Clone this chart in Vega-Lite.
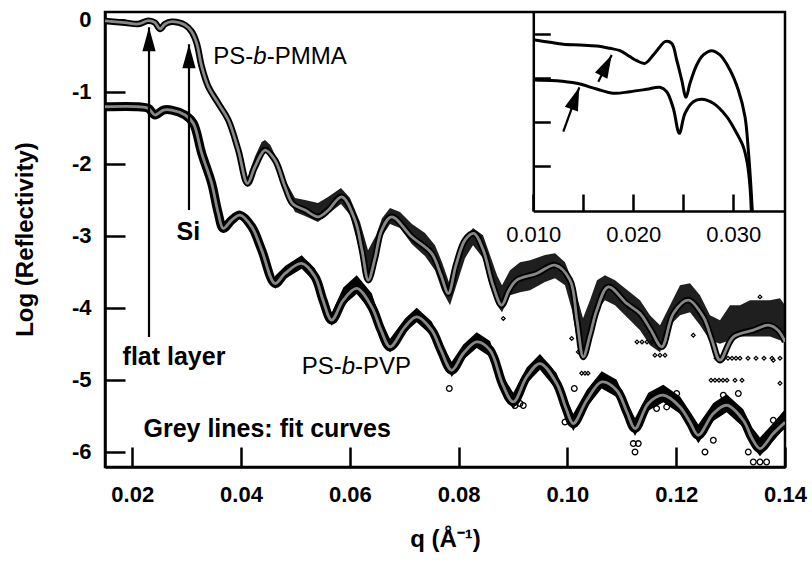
{
  "$schema": "https://vega.github.io/schema/vega-lite/v6.json",
  "width": 680,
  "height": 455,
  "autosize": {"type": "none"},
  "padding": {"left": 105, "top": 12, "right": 27, "bottom": 96},
  "background": "white",
  "config": {
    "font": "Liberation Sans",
    "view": {"stroke": "black", "strokeWidth": 2.5},
    "axis": {"grid": false, "domainColor": "black", "domainWidth": 2.5, "tickColor": "black", "tickWidth": 2.5, "labelColor": "black", "titleColor": "black", "labelFont": "Liberation Sans", "titleFont": "Liberation Sans", "labelOverlap": false, "labelFlush": false}
  },
  "datasets": {
    "pmma": [
      {"q":0.0150,"v":-0.019},{"q":0.01868,"v":-0.043},{"q":0.02112,"v":-0.061},{"q":0.02296,"v":-0.015},{"q":0.02419,"v":-0.043},{"q":0.02511,"v":-0.131},{"q":0.02603,"v":-0.061},{"q":0.02726,"v":-0.029},{"q":0.02971,"v":-0.075},{"q":0.03094,"v":-0.168},{"q":0.03186,"v":-0.329},{"q":0.03278,"v":-0.654},{"q":0.03399,"v":-0.932},{"q":0.03583,"v":-1.163},{"q":0.03767,"v":-1.394},{"q":0.03950,"v":-1.811},{"q":0.04119,"v":-2.274},{"q":0.04257,"v":-2.043},{"q":0.04441,"v":-1.811},{"q":0.04625,"v":-1.950},{"q":0.04809,"v":-2.321},{"q":0.04956,"v":-2.561},{"q":0.05176,"v":-2.644},{"q":0.05421,"v":-2.738},{"q":0.05605,"v":-2.644},{"q":0.05851,"v":-2.460},{"q":0.06096,"v":-2.783},{"q":0.06224,"v":-3.200},{"q":0.06340,"v":-3.617},{"q":0.06463,"v":-3.311},{"q":0.06586,"v":-2.922},{"q":0.06770,"v":-2.738},{"q":0.07138,"v":-3.015},{"q":0.07505,"v":-3.246},{"q":0.07676,"v":-3.547},{"q":0.07811,"v":-3.801},{"q":0.07952,"v":-3.408},{"q":0.08118,"v":-3.061},{"q":0.08283,"v":-2.968},{"q":0.08454,"v":-3.200},{"q":0.08632,"v":-3.686},{"q":0.08792,"v":-3.964},{"q":0.08926,"v":-3.756},{"q":0.09068,"v":-3.617},{"q":0.09436,"v":-3.524},{"q":0.09772,"v":-3.408},{"q":0.10048,"v":-3.617},{"q":0.10176,"v":-4.172},{"q":0.10292,"v":-4.682},{"q":0.10415,"v":-4.381},{"q":0.10539,"v":-4.033},{"q":0.10752,"v":-3.710},{"q":0.11090,"v":-3.940},{"q":0.11335,"v":-4.079},{"q":0.11537,"v":-4.311},{"q":0.11734,"v":-4.543},{"q":0.11947,"v":-4.079},{"q":0.12222,"v":-3.894},{"q":0.12498,"v":-4.126},{"q":0.12658,"v":-4.450},{"q":0.12805,"v":-4.728},{"q":0.13050,"v":-4.404},{"q":0.13417,"v":-4.311},{"q":0.13693,"v":-4.242},{"q":0.13871,"v":-4.311},{"q":0.14000,"v":-4.470}
    ],
    "pvp": [
      {"q":0.0150,"v":-1.210},{"q":0.02112,"v":-1.210},{"q":0.02296,"v":-1.232},{"q":0.02419,"v":-1.325},{"q":0.02572,"v":-1.256},{"q":0.02726,"v":-1.256},{"q":0.02971,"v":-1.325},{"q":0.03123,"v":-1.440},{"q":0.03278,"v":-1.857},{"q":0.03461,"v":-2.274},{"q":0.03577,"v":-2.672},{"q":0.03675,"v":-2.899},{"q":0.03829,"v":-2.783},{"q":0.03982,"v":-2.714},{"q":0.04197,"v":-2.876},{"q":0.04381,"v":-3.200},{"q":0.04625,"v":-3.663},{"q":0.04809,"v":-3.524},{"q":0.05116,"v":-3.385},{"q":0.05360,"v":-3.571},{"q":0.05507,"v":-3.894},{"q":0.05667,"v":-4.172},{"q":0.05880,"v":-3.894},{"q":0.06127,"v":-3.732},{"q":0.06403,"v":-3.988},{"q":0.06574,"v":-4.311},{"q":0.06739,"v":-4.543},{"q":0.07015,"v":-4.265},{"q":0.07230,"v":-4.126},{"q":0.07506,"v":-4.311},{"q":0.07676,"v":-4.589},{"q":0.07873,"v":-4.867},{"q":0.08086,"v":-4.635},{"q":0.08333,"v":-4.474},{"q":0.08577,"v":-4.589},{"q":0.08816,"v":-5.075},{"q":0.09006,"v":-5.307},{"q":0.09252,"v":-4.960},{"q":0.09496,"v":-4.774},{"q":0.09803,"v":-5.051},{"q":0.09974,"v":-5.394},{"q":0.10108,"v":-5.607},{"q":0.10355,"v":-5.283},{"q":0.10630,"v":-5.029},{"q":0.10906,"v":-5.144},{"q":0.11096,"v":-5.450},{"q":0.11243,"v":-5.676},{"q":0.11487,"v":-5.329},{"q":0.11763,"v":-5.214},{"q":0.12070,"v":-5.376},{"q":0.12254,"v":-5.589},{"q":0.12406,"v":-5.769},{"q":0.12682,"v":-5.468},{"q":0.12928,"v":-5.353},{"q":0.13233,"v":-5.561},{"q":0.13393,"v":-5.811},{"q":0.13540,"v":-5.954},{"q":0.13785,"v":-5.746},{"q":0.14000,"v":-5.590}
    ],
    "pmma_band": [
      {"q":0.04150,"hi":-2.12,"lo":-2.26},{"q":0.04257,"hi":-1.90,"lo":-2.06},{"q":0.04380,"hi":-1.70,"lo":-1.86},{"q":0.04441,"hi":-1.67,"lo":-1.83},{"q":0.04540,"hi":-1.74,"lo":-1.90},{"q":0.04625,"hi":-1.88,"lo":-2.03},{"q":0.04720,"hi":-2.07,"lo":-2.23},{"q":0.04809,"hi":-2.228,"lo":-2.394},{"q":0.04993,"hi":-2.478,"lo":-2.672},{"q":0.05176,"hi":-2.506,"lo":-2.728},{"q":0.05415,"hi":-2.547,"lo":-2.811},{"q":0.05599,"hi":-2.464,"lo":-2.700},{"q":0.05838,"hi":-2.339,"lo":-2.561},{"q":0.06004,"hi":-2.478,"lo":-2.714},{"q":0.06188,"hi":-2.811,"lo":-3.228},{"q":0.06335,"hi":-3.200,"lo":-3.644},{"q":0.06482,"hi":-2.992,"lo":-3.367},{"q":0.06592,"hi":-2.756,"lo":-3.006},{"q":0.06739,"hi":-2.617,"lo":-2.839},{"q":0.06923,"hi":-2.672,"lo":-2.894},{"q":0.07143,"hi":-2.839,"lo":-3.117},{"q":0.07382,"hi":-2.964,"lo":-3.283},{"q":0.07566,"hi":-3.131,"lo":-3.478},{"q":0.07695,"hi":-3.367,"lo":-3.756},{"q":0.07842,"hi":-3.686,"lo":-3.964},{"q":0.07989,"hi":-3.311,"lo":-3.617},{"q":0.08118,"hi":-3.033,"lo":-3.311},{"q":0.08265,"hi":-2.894,"lo":-3.131},{"q":0.08449,"hi":-2.992,"lo":-3.311},{"q":0.08577,"hi":-3.269,"lo":-3.686},{"q":0.08706,"hi":-3.547,"lo":-3.964},{"q":0.08798,"hi":-3.686,"lo":-4.061},{"q":0.08945,"hi":-3.478,"lo":-3.825},{"q":0.09129,"hi":-3.367,"lo":-3.783},{"q":0.09313,"hi":-3.339,"lo":-3.756},{"q":0.09588,"hi":-3.269,"lo":-3.644},{"q":0.09772,"hi":-3.242,"lo":-3.589},{"q":0.09956,"hi":-3.367,"lo":-3.686},{"q":0.10085,"hi":-3.617,"lo":-4.033},{"q":0.10195,"hi":-3.894,"lo":-4.519},{"q":0.10287,"hi":-4.144,"lo":-4.700},{"q":0.10415,"hi":-3.894,"lo":-4.311},{"q":0.10544,"hi":-3.617,"lo":-4.033},{"q":0.10691,"hi":-3.547,"lo":-3.894},{"q":0.10875,"hi":-3.617,"lo":-3.964},{"q":0.11059,"hi":-3.728,"lo":-4.103},{"q":0.11335,"hi":-3.894,"lo":-4.311},{"q":0.11518,"hi":-4.103,"lo":-4.519},{"q":0.11702,"hi":-4.242,"lo":-4.617},{"q":0.11886,"hi":-3.964,"lo":-4.242},{"q":0.12070,"hi":-3.686,"lo":-4.103},{"q":0.12254,"hi":-3.658,"lo":-4.061},{"q":0.12438,"hi":-3.825,"lo":-4.242},{"q":0.12621,"hi":-4.103,"lo":-4.450},{"q":0.12805,"hi":-4.172,"lo":-4.500},{"q":0.12989,"hi":-3.964,"lo":-4.450},{"q":0.13173,"hi":-3.964,"lo":-4.400},{"q":0.13357,"hi":-3.894,"lo":-4.400},{"q":0.13540,"hi":-3.894,"lo":-4.400},{"q":0.13724,"hi":-3.894,"lo":-4.400},{"q":0.13908,"hi":-3.867,"lo":-4.450},{"q":0.14000,"hi":-3.964,"lo":-4.450}
    ],
    "pvp_band": [
      {"q":0.04625,"hi":-3.56,"lo":-3.74},{"q":0.04809,"hi":-3.42,"lo":-3.60},{"q":0.05116,"hi":-3.27,"lo":-3.46},{"q":0.05360,"hi":-3.46,"lo":-3.65},{"q":0.05507,"hi":-3.79,"lo":-3.98},{"q":0.05667,"hi":-4.07,"lo":-4.25},{"q":0.05880,"hi":-3.72,"lo":-3.97},{"q":0.06127,"hi":-3.55,"lo":-3.81},{"q":0.06403,"hi":-3.80,"lo":-4.06},{"q":0.06574,"hi":-4.18,"lo":-4.38},{"q":0.06739,"hi":-4.43,"lo":-4.62},{"q":0.07015,"hi":-4.15,"lo":-4.34},{"q":0.07230,"hi":-4.00,"lo":-4.20},{"q":0.07506,"hi":-4.19,"lo":-4.39},{"q":0.07676,"hi":-4.47,"lo":-4.67},{"q":0.07873,"hi":-4.75,"lo":-4.96},{"q":0.08086,"hi":-4.51,"lo":-4.72},{"q":0.08333,"hi":-4.34,"lo":-4.56},{"q":0.08577,"hi":-4.46,"lo":-4.68},{"q":0.08816,"hi":-4.95,"lo":-5.17},{"q":0.09006,"hi":-5.18,"lo":-5.41},{"q":0.09252,"hi":-4.83,"lo":-5.05},{"q":0.09496,"hi":-4.64,"lo":-4.86},{"q":0.09803,"hi":-4.91,"lo":-5.14},{"q":0.09974,"hi":-5.25,"lo":-5.50},{"q":0.10108,"hi":-5.47,"lo":-5.71},{"q":0.10355,"hi":-5.14,"lo":-5.38},{"q":0.10630,"hi":-4.88,"lo":-5.12},{"q":0.10906,"hi":-5.00,"lo":-5.24},{"q":0.11096,"hi":-5.31,"lo":-5.55},{"q":0.11243,"hi":-5.53,"lo":-5.78},{"q":0.11487,"hi":-5.18,"lo":-5.43},{"q":0.11763,"hi":-5.07,"lo":-5.31},{"q":0.12070,"hi":-5.23,"lo":-5.47},{"q":0.12254,"hi":-5.44,"lo":-5.69},{"q":0.12406,"hi":-5.62,"lo":-5.88},{"q":0.12682,"hi":-5.32,"lo":-5.57},{"q":0.12928,"hi":-5.20,"lo":-5.45},{"q":0.13233,"hi":-5.41,"lo":-5.66},{"q":0.13393,"hi":-5.66,"lo":-5.92},{"q":0.13540,"hi":-5.80,"lo":-6.06},{"q":0.13785,"hi":-5.60,"lo":-5.85},{"q":0.14000,"hi":-5.41,"lo":-5.66}
    ],
    "pmma_pts": [
      {"q":0.08822,"v":-4.149},{"q":0.10079,"v":-4.426},{"q":0.10200,"v":-4.613},{"q":0.10263,"v":-4.908},{"q":0.10324,"v":-4.908},{"q":0.10379,"v":-4.908},{"q":0.11279,"v":-4.474},{"q":0.11371,"v":-4.474},{"q":0.11463,"v":-4.474},{"q":0.11555,"v":-4.474},{"q":0.11647,"v":-4.474},{"q":0.11610,"v":-4.658},{"q":0.11702,"v":-4.658},{"q":0.11794,"v":-4.658},{"q":0.12314,"v":-4.381},{"q":0.12732,"v":-4.700},{"q":0.12805,"v":-4.700},{"q":0.12879,"v":-4.700},{"q":0.12952,"v":-4.700},{"q":0.13026,"v":-4.700},{"q":0.13099,"v":-4.700},{"q":0.13173,"v":-4.700},{"q":0.13320,"v":-4.700},{"q":0.13467,"v":-4.700},{"q":0.13614,"v":-4.700},{"q":0.13761,"v":-4.700},{"q":0.13908,"v":-4.700},{"q":0.12640,"v":-5.006},{"q":0.12713,"v":-5.006},{"q":0.12787,"v":-5.006},{"q":0.12860,"v":-5.006},{"q":0.12934,"v":-5.006},{"q":0.13081,"v":-5.006},{"q":0.13210,"v":-5.006},{"q":0.13908,"v":-5.047},{"q":0.13785,"v":-4.728},{"q":0.13540,"v":-3.849}
    ],
    "pvp_pts": [
      {"q":0.07829,"v":-5.121},{"q":0.09037,"v":-5.356},{"q":0.09189,"v":-5.356},{"q":0.09129,"v":-5.329},{"q":0.09956,"v":-5.585},{"q":0.10127,"v":-5.121},{"q":0.11211,"v":-5.885},{"q":0.11303,"v":-5.885},{"q":0.11243,"v":-6.001},{"q":0.11426,"v":-5.422},{"q":0.11640,"v":-5.399},{"q":0.11825,"v":-5.376},{"q":0.12009,"v":-5.190},{"q":0.12529,"v":-6.001},{"q":0.12682,"v":-5.839},{"q":0.12866,"v":-5.214},{"q":0.13142,"v":-5.190},{"q":0.13325,"v":-6.001},{"q":0.13417,"v":-6.140},{"q":0.13540,"v":-6.140},{"q":0.13662,"v":-6.140},{"q":0.13785,"v":-5.561}
    ],
    "arrows": [
      {"q":0.02309,"top":-0.107,"bot":-4.404},
      {"q":0.03044,"top":-0.343,"bot":-2.644}
    ],
    "bold_labels": [
      {"q":0.03031,"v":-2.946,"t":"Si"},
      {"q":0.02768,"v":-4.686,"t":"flat layer"},
      {"q":0.04480,"v":-5.676,"t":"Grey lines: fit curves"}
    ],
    "plain_labels": [
      {"q":0.03491,"v":-0.515,"t":"PS-"},
      {"q":0.04472,"v":-0.515,"t":"-PMMA"},
      {"q":0.05116,"v":-4.821,"t":"PS-"},
      {"q":0.06096,"v":-4.821,"t":"-PVP"}
    ],
    "italic_labels": [
      {"q":0.04226,"v":-0.515,"t":"b"},
      {"q":0.05851,"v":-4.821,"t":"b"}
    ],
    "inset": [
      {"c":"PS-b-PMMA","q":0.01000,"r":-0.130},{"c":"PS-b-PMMA","q":0.01017,"r":-0.136},{"c":"PS-b-PMMA","q":0.01167,"r":-0.189},{"c":"PS-b-PMMA","q":0.01300,"r":-0.235},{"c":"PS-b-PMMA","q":0.01467,"r":-0.250},{"c":"PS-b-PMMA","q":0.01634,"r":-0.273},{"c":"PS-b-PMMA","q":0.01767,"r":-0.326},{"c":"PS-b-PMMA","q":0.01867,"r":-0.379},{"c":"PS-b-PMMA","q":0.01967,"r":-0.515},{"c":"PS-b-PMMA","q":0.02034,"r":-0.606},{"c":"PS-b-PMMA","q":0.02117,"r":-0.667},{"c":"PS-b-PMMA","q":0.02200,"r":-0.477},{"c":"PS-b-PMMA","q":0.02267,"r":-0.288},{"c":"PS-b-PMMA","q":0.02317,"r":-0.174},{"c":"PS-b-PMMA","q":0.02384,"r":-0.212},{"c":"PS-b-PMMA","q":0.02434,"r":-0.591},{"c":"PS-b-PMMA","q":0.02484,"r":-1.045},{"c":"PS-b-PMMA","q":0.02527,"r":-1.439},{"c":"PS-b-PMMA","q":0.02567,"r":-1.121},{"c":"PS-b-PMMA","q":0.02634,"r":-0.705},{"c":"PS-b-PMMA","q":0.02700,"r":-0.477},{"c":"PS-b-PMMA","q":0.02784,"r":-0.379},{"c":"PS-b-PMMA","q":0.02867,"r":-0.477},{"c":"PS-b-PMMA","q":0.02967,"r":-0.818},{"c":"PS-b-PMMA","q":0.03050,"r":-1.273},{"c":"PS-b-PMMA","q":0.03117,"r":-1.879},{"c":"PS-b-PMMA","q":0.03150,"r":-2.636},{"c":"PS-b-PMMA","q":0.03174,"r":-3.394},{"c":"PS-b-PMMA","q":0.03190,"r":-4.023},
      {"c":"PS-b-PVP","q":0.01000,"r":-1.040},{"c":"PS-b-PVP","q":0.01017,"r":-1.045},{"c":"PS-b-PVP","q":0.01234,"r":-1.061},{"c":"PS-b-PVP","q":0.01434,"r":-1.121},{"c":"PS-b-PVP","q":0.01634,"r":-1.250},{"c":"PS-b-PVP","q":0.01800,"r":-1.348},{"c":"PS-b-PVP","q":0.01967,"r":-1.311},{"c":"PS-b-PVP","q":0.02134,"r":-1.257},{"c":"PS-b-PVP","q":0.02267,"r":-1.211},{"c":"PS-b-PVP","q":0.02334,"r":-1.311},{"c":"PS-b-PVP","q":0.02400,"r":-1.689},{"c":"PS-b-PVP","q":0.02460,"r":-2.257},{"c":"PS-b-PVP","q":0.02517,"r":-1.803},{"c":"PS-b-PVP","q":0.02600,"r":-1.538},{"c":"PS-b-PVP","q":0.02684,"r":-1.484},{"c":"PS-b-PVP","q":0.02800,"r":-1.575},{"c":"PS-b-PVP","q":0.02934,"r":-1.879},{"c":"PS-b-PVP","q":0.03034,"r":-2.257},{"c":"PS-b-PVP","q":0.03100,"r":-2.561},{"c":"PS-b-PVP","q":0.03140,"r":-2.939},{"c":"PS-b-PVP","q":0.03167,"r":-3.470},{"c":"PS-b-PVP","q":0.03180,"r":-4.023}
    ],
    "inset_arrows": [
      {"id":"A","q1":0.0130,"r1":-2.22,"q2":0.0146,"r2":-1.211},
      {"id":"B","q1":0.0165,"r1":-1.084,"q2":0.01784,"r2":-0.477}
    ]
  },
  "layer": [
    {
      "data": {"name": "pmma_band"},
      "mark": {"type": "area", "color": "black", "opacity": 0.88, "clip": true},
      "encoding": {
        "x": {"field": "q", "type": "quantitative", "scale": {"domain": [0.015, 0.14], "nice": false, "zero": false},
          "axis": {"orient": "bottom", "values": [0.02, 0.04, 0.06, 0.08, 0.1, 0.12, 0.14], "format": ".2f", "labelFontSize": 22, "labelFontWeight": "bold", "tickSize": -20, "labelPadding": 37, "title": "q (Å⁻¹)", "titleFontSize": 24, "titleFontWeight": "bold", "titleY": 72, "titleBaseline": "middle"}},
        "y": {"field": "hi", "type": "quantitative", "scale": {"domain": [-6.21, 0.105], "nice": false, "zero": false},
          "axis": {"orient": "left", "values": [0, -1, -2, -3, -4, -5, -6], "labelExpr": "datum.value == 0 ? '0' : '-' + abs(datum.value)", "labelFontSize": 22, "labelFontWeight": "bold", "tickSize": -20, "labelPadding": 34, "title": "Log (Reflectivity)", "titleFontSize": 24, "titleFontWeight": "bold", "titleX": -80, "titleY": 227, "titleBaseline": "middle", "titleAlign": "center"}},
        "y2": {"field": "lo"}
      }
    },
    {
      "data": {"name": "pvp_band"},
      "mark": {"type": "area", "color": "black", "opacity": 1, "clip": true},
      "encoding": {
        "x": {"field": "q", "type": "quantitative", "scale": {"domain": [0.015, 0.14], "nice": false, "zero": false}, "axis": null},
        "y": {"field": "hi", "type": "quantitative", "scale": {"domain": [-6.21, 0.105], "nice": false, "zero": false}, "axis": null},
        "y2": {"field": "lo"}
      }
    },
    {
      "data": {"name": "pmma"},
      "mark": {"type": "line", "color": "black", "strokeWidth": 6.5, "interpolate": "catmull-rom", "clip": true},
      "encoding": {
        "x": {"field": "q", "type": "quantitative", "scale": {"domain": [0.015, 0.14], "nice": false, "zero": false}, "axis": null},
        "y": {"field": "v", "type": "quantitative", "scale": {"domain": [-6.21, 0.105], "nice": false, "zero": false}, "axis": null}
      }
    },
    {
      "data": {"name": "pvp"},
      "mark": {"type": "line", "color": "black", "strokeWidth": 9, "interpolate": "catmull-rom", "clip": true},
      "encoding": {
        "x": {"field": "q", "type": "quantitative", "scale": {"domain": [0.015, 0.14], "nice": false, "zero": false}, "axis": null},
        "y": {"field": "v", "type": "quantitative", "scale": {"domain": [-6.21, 0.105], "nice": false, "zero": false}, "axis": null}
      }
    },
    {
      "data": {"name": "pmma_pts"},
      "mark": {"type": "point", "shape": "diamond", "filled": false, "color": "black", "size": 14, "strokeWidth": 1.2, "opacity": 1},
      "encoding": {
        "x": {"field": "q", "type": "quantitative", "scale": {"domain": [0.015, 0.14], "nice": false, "zero": false}, "axis": null},
        "y": {"field": "v", "type": "quantitative", "scale": {"domain": [-6.21, 0.105], "nice": false, "zero": false}, "axis": null}
      }
    },
    {
      "data": {"name": "pvp_pts"},
      "mark": {"type": "point", "shape": "circle", "filled": false, "color": "black", "size": 32, "strokeWidth": 1.3, "opacity": 1},
      "encoding": {
        "x": {"field": "q", "type": "quantitative", "scale": {"domain": [0.015, 0.14], "nice": false, "zero": false}, "axis": null},
        "y": {"field": "v", "type": "quantitative", "scale": {"domain": [-6.21, 0.105], "nice": false, "zero": false}, "axis": null}
      }
    },
    {
      "data": {"name": "pmma"},
      "mark": {"type": "line", "color": "#888888", "strokeWidth": 2.8, "interpolate": "catmull-rom", "clip": true},
      "encoding": {
        "x": {"field": "q", "type": "quantitative", "scale": {"domain": [0.015, 0.14], "nice": false, "zero": false}, "axis": null},
        "y": {"field": "v", "type": "quantitative", "scale": {"domain": [-6.21, 0.105], "nice": false, "zero": false}, "axis": null}
      }
    },
    {
      "data": {"name": "pvp"},
      "mark": {"type": "line", "color": "#888888", "strokeWidth": 2.8, "interpolate": "catmull-rom", "clip": true},
      "encoding": {
        "x": {"field": "q", "type": "quantitative", "scale": {"domain": [0.015, 0.14], "nice": false, "zero": false}, "axis": null},
        "y": {"field": "v", "type": "quantitative", "scale": {"domain": [-6.21, 0.105], "nice": false, "zero": false}, "axis": null}
      }
    },
    {
      "data": {"name": "arrows"},
      "mark": {"type": "rule", "color": "black", "strokeWidth": 2.2},
      "encoding": {
        "x": {"field": "q", "type": "quantitative", "scale": {"domain": [0.015, 0.14], "nice": false, "zero": false}, "axis": null},
        "y": {"field": "top", "type": "quantitative", "scale": {"domain": [-6.21, 0.105], "nice": false, "zero": false}, "axis": null},
        "y2": {"field": "bot"}
      }
    },
    {
      "data": {"name": "arrows"},
      "mark": {"type": "point", "shape": "M0,0L0.55,2L-0.55,2Z", "filled": true, "color": "black", "size": 576, "opacity": 1, "strokeWidth": 0},
      "encoding": {
        "x": {"field": "q", "type": "quantitative", "scale": {"domain": [0.015, 0.14], "nice": false, "zero": false}, "axis": null},
        "y": {"field": "top", "type": "quantitative", "scale": {"domain": [-6.21, 0.105], "nice": false, "zero": false}, "axis": null}
      }
    },
    {
      "data": {"name": "bold_labels"},
      "mark": {"type": "text", "font": "Liberation Sans", "fontWeight": "bold", "fontSize": 25, "align": "center", "baseline": "middle", "color": "black"},
      "encoding": {
        "x": {"field": "q", "type": "quantitative", "scale": {"domain": [0.015, 0.14], "nice": false, "zero": false}, "axis": null},
        "y": {"field": "v", "type": "quantitative", "scale": {"domain": [-6.21, 0.105], "nice": false, "zero": false}, "axis": null},
        "text": {"field": "t"}
      }
    },
    {
      "data": {"name": "plain_labels"},
      "mark": {"type": "text", "font": "Liberation Sans", "fontSize": 24, "align": "left", "baseline": "middle", "color": "black"},
      "encoding": {
        "x": {"field": "q", "type": "quantitative", "scale": {"domain": [0.015, 0.14], "nice": false, "zero": false}, "axis": null},
        "y": {"field": "v", "type": "quantitative", "scale": {"domain": [-6.21, 0.105], "nice": false, "zero": false}, "axis": null},
        "text": {"field": "t"}
      }
    },
    {
      "data": {"name": "italic_labels"},
      "mark": {"type": "text", "font": "Liberation Sans", "fontStyle": "italic", "fontSize": 24, "align": "left", "baseline": "middle", "color": "black"},
      "encoding": {
        "x": {"field": "q", "type": "quantitative", "scale": {"domain": [0.015, 0.14], "nice": false, "zero": false}, "axis": null},
        "y": {"field": "v", "type": "quantitative", "scale": {"domain": [-6.21, 0.105], "nice": false, "zero": false}, "axis": null},
        "text": {"field": "t"}
      }
    },
    {
      "data": {"name": "inset"},
      "mark": {"type": "line", "color": "black", "strokeWidth": 3, "interpolate": "catmull-rom"},
      "encoding": {
        "x": {"field": "q", "type": "quantitative", "scale": {"domain": [0.010, 0.03517], "range": [428.3, 680], "nice": false, "zero": false},
          "axis": {"orient": "bottom", "offset": -256, "values": [0.01, 0.015, 0.02, 0.025, 0.03], "labelExpr": "round(datum.value * 1000) % 10 == 0 ? format(datum.value, '.3f') : ''", "labelFontSize": 22, "labelFontWeight": "normal", "tickSize": -17, "labelPadding": 30, "title": null}},
        "y": {"field": "r", "type": "quantitative", "scale": {"domain": [-4.023, 0.5], "range": [199, 0], "nice": false, "zero": false},
          "axis": {"orient": "left", "offset": -428.3, "values": [0, -1, -2, -3], "labels": false, "tickSize": -17, "title": null}},
        "detail": {"field": "c"}
      }
    },
    {
      "data": {"name": "inset_arrows"},
      "mark": {"type": "rule", "color": "black", "strokeWidth": 2.2},
      "encoding": {
        "x": {"field": "q1", "type": "quantitative", "scale": {"domain": [0.010, 0.03517], "range": [428.3, 680], "nice": false, "zero": false}, "axis": null},
        "y": {"field": "r1", "type": "quantitative", "scale": {"domain": [-4.023, 0.5], "range": [199, 0], "nice": false, "zero": false}, "axis": null},
        "x2": {"field": "q2"},
        "y2": {"field": "r2"}
      }
    },
    {
      "data": {"name": "inset_arrows"},
      "transform": [{"filter": "datum.id == 'A'"}],
      "mark": {"type": "point", "shape": "M0,0L0.6,2L-0.6,2Z", "filled": true, "color": "black", "size": 540, "opacity": 1, "strokeWidth": 0, "angle": 20},
      "encoding": {
        "x": {"field": "q2", "type": "quantitative", "scale": {"domain": [0.010, 0.03517], "range": [428.3, 680], "nice": false, "zero": false}, "axis": null},
        "y": {"field": "r2", "type": "quantitative", "scale": {"domain": [-4.023, 0.5], "range": [199, 0], "nice": false, "zero": false}, "axis": null}
      }
    },
    {
      "data": {"name": "inset_arrows"},
      "transform": [{"filter": "datum.id == 'B'"}],
      "mark": {"type": "point", "shape": "M0,0L0.6,2L-0.6,2Z", "filled": true, "color": "black", "size": 540, "opacity": 1, "strokeWidth": 0, "angle": 27},
      "encoding": {
        "x": {"field": "q2", "type": "quantitative", "scale": {"domain": [0.010, 0.03517], "range": [428.3, 680], "nice": false, "zero": false}, "axis": null},
        "y": {"field": "r2", "type": "quantitative", "scale": {"domain": [-4.023, 0.5], "range": [199, 0], "nice": false, "zero": false}, "axis": null}
      }
    }
  ],
  "resolve": {"scale": {"x": "independent", "y": "independent"}}
}
